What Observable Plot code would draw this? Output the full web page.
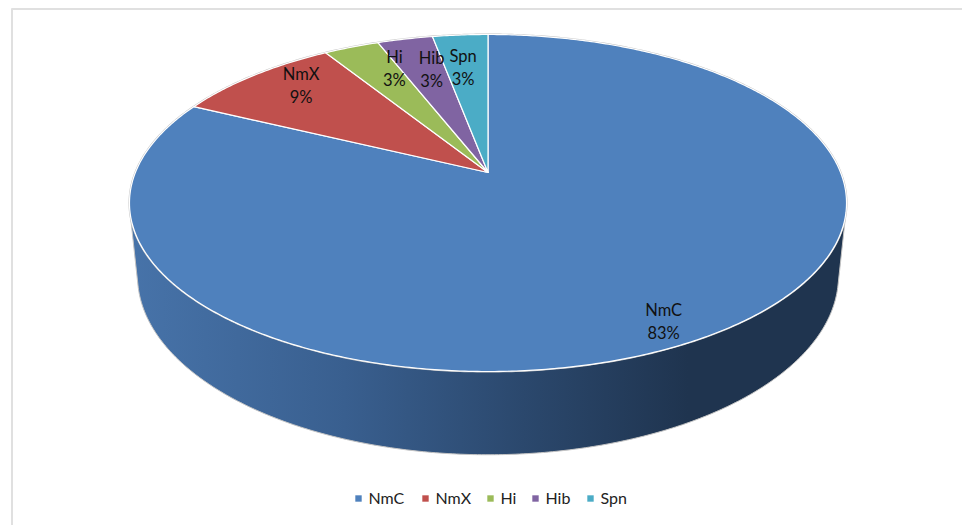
<!DOCTYPE html>
<html>
<head>
<meta charset="utf-8">
<script src="https://cdn.jsdelivr.net/npm/d3@7"></script>
<script src="https://cdn.jsdelivr.net/npm/@observablehq/plot@0.6"></script>
<style>
  html, body { margin: 0; padding: 0; background: #fff; }
  svg { display: block; }
</style>
</head>
<body>
<div id="chart"></div>
<script>
// Share of isolates by serogroup / species
const categories = ["NmC", "NmX", "Hi", "Hib", "Spn"];
const shares = [83, 9, 3, 3, 3];
const colors = ["#4f81bd", "#c0504d", "#9bbb59", "#8064a2", "#4bacc6"];

// Label placement: fraction of the radius, then a small nudge in pixels
const labelRadius = [0.82, 0.82, 0.77, 0.72, 0.72];
const labelNudgeX = [0, 9, 15, 6, -4];
const labelNudgeY = [18, -7, -6, -4, -3];

// Legend layout
const legendSwatchX = [358, 425, 490, 535, 590];
const legendY = 498;

// Perspective of the tilted disc: top face and the base below it
const tilt = 0.181;
const cx = 487.5;
const topFace = {a: 352.6, b: 163, y0: 172};
const baseFace = {a: 344.7, b: 173, y0: 243};

const project = (face, r, angle) => {
  const u = r * Math.sin(angle), v = r * Math.cos(angle), w = 1 + tilt * v;
  return {x: cx + face.a * u / w, y: face.y0 - face.b * v / w};
};

const arcs = d3.pie().sort(null)(shares);

const sweep = (face, a0, a1) => {
  const n = Math.max(2, Math.ceil((a1 - a0) / 0.01));
  return d3.range(n + 1).map((i) => project(face, 1, a0 + (a1 - a0) * i / n));
};

const slices = arcs.map((arc) => [
  project(topFace, 0, 0),
  ...sweep(topFace, arc.startAngle, arc.endAngle)
]);

// Side wall: hull of the top rim and the base rim
const rimPoints = [...sweep(topFace, 0, 2 * Math.PI), ...sweep(baseFace, 0, 2 * Math.PI)];
const wall = d3.polygonHull(rimPoints.map((p) => [p.x, p.y])).map(([x, y]) => ({x, y}));
const topRim = sweep(topFace, 0, 2 * Math.PI);

const labels = arcs.map((arc, i) => {
  const p = project(topFace, labelRadius[i], (arc.startAngle + arc.endAngle) / 2);
  return {
    x: p.x + labelNudgeX[i],
    y: p.y + labelNudgeY[i],
    text: `${categories[i]}\n${shares[i]}%`
  };
});

const legend = categories.map((name, i) => ({name, x: legendSwatchX[i], color: colors[i]}));

const sideGradient = () => {
  const svgNS = "http://www.w3.org/2000/svg";
  const defs = document.createElementNS(svgNS, "defs");
  const grad = document.createElementNS(svgNS, "linearGradient");
  grad.setAttribute("id", "wall-shade");
  grad.setAttribute("gradientUnits", "userSpaceOnUse");
  grad.setAttribute("x1", 130);
  grad.setAttribute("x2", 845);
  grad.setAttribute("y1", 0);
  grad.setAttribute("y2", 0);
  [[0, "#4773a9"], [0.3, "#395f8f"], [0.55, "#2b486d"], [0.78, "#1f344f"], [1, "#1f344f"]].forEach(([o, c]) => {
    const stop = document.createElementNS(svgNS, "stop");
    stop.setAttribute("offset", o);
    stop.setAttribute("stop-color", c);
    grad.appendChild(stop);
  });
  defs.appendChild(grad);
  return defs;
};

const font = "Lato, 'Open Sans', sans-serif";

const chart = Plot.plot({
  width: 962,
  height: 525,
  margin: 0,
  x: {domain: [0, 962], range: [0, 962], axis: null},
  y: {domain: [0, 525], range: [0, 525], axis: null},
  marks: [
    // chart frame
    Plot.ruleX([11.5], {y1: 8.5, y2: 525, stroke: "#e0e0e0", strokeWidth: 2}),
    Plot.ruleY([8.5], {x1: 11.5, x2: 962, stroke: "#e0e0e0", strokeWidth: 2}),
    sideGradient,
    Plot.line(wall, {x: "x", y: "y", curve: "linear-closed", fill: "url(#wall-shade)", stroke: "#c4c4c4", strokeWidth: 1}),
    Plot.line(topRim, {x: "x", y: "y", curve: "linear-closed", fill: colors[0], stroke: "#c4c4c4", strokeWidth: 2}),
    ...slices.map((pts, i) => Plot.line(pts, {
      x: "x", y: "y", curve: "linear-closed", fill: colors[i], stroke: "#fff", strokeWidth: 1.2
    })),
    Plot.text(labels, {
      x: "x", y: "y", text: "text", fill: "#111", fontSize: 16.5, fontFamily: font, lineHeight: 1.4
    }),
    Plot.dot(legend, {
      x: "x", y: () => legendY, symbol: "square", r: 3.6, fill: "color", stroke: null
    }),
    Plot.text(legend, {
      x: "x", y: () => legendY, dx: 10, text: "name", textAnchor: "start", fill: "#222", fontSize: 16, fontFamily: font
    })
  ]
});

document.getElementById("chart").appendChild(chart);
</script>
</body>
</html>
